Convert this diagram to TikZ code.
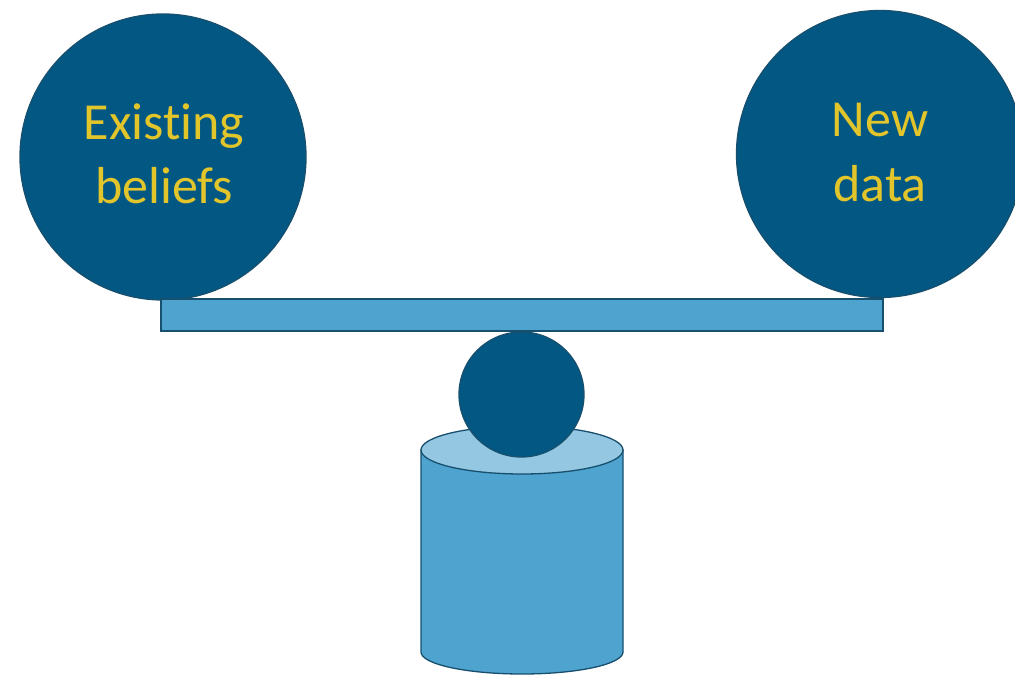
\documentclass[tikz,border=0pt]{standalone}
\usepackage{fontspec}
\setmainfont{Carlito}[Ligatures=NoCommon]
\begin{document}
\begin{tikzpicture}[x=1pt,y=-1pt,
  darkfill/.style={fill=ballblue,draw=edgeblue,line width=1.3pt},
  lightfill/.style={fill=barblue,draw=edgeblue,line width=1.3pt},
  label/.style={text=labelgold,font=\fontsize{52}{63}\selectfont,anchor=base,inner sep=0pt}]
\definecolor{ballblue}{HTML}{025883}
\definecolor{barblue}{HTML}{4FA3CF}
\definecolor{toplight}{HTML}{93C7E2}
\definecolor{edgeblue}{HTML}{174F6E}
\definecolor{labelgold}{HTML}{E2C42B}
\useasboundingbox (0,0) rectangle (1015,676);
% weights on the beam
\node[darkfill,circle,minimum size=286pt,inner sep=0pt] (left) at (163,157) {};
\node[darkfill,circle,minimum size=287pt,inner sep=0pt] (right) at (880,154) {};
\node[label] (l1) at (164,140) {Existing};
\node[label] (l2) at (164,204) {beliefs};
\node[label] (r1) at (880,137) {New};
\node[label] (r2) at (880,202) {data};
% beam
\node[lightfill,rectangle,minimum width=722pt,minimum height=32pt,inner sep=0pt] (beam) at (522,315) {};
% pedestal cylinder
\path[lightfill] (421,450) -- (421,652) arc[start angle=180,end angle=0,x radius=101,y radius=22] -- (623,450) -- cycle;
\path[fill=toplight,draw=edgeblue,line width=1.3pt] (522,450) ellipse[x radius=101,y radius=24];
% fulcrum ball
\node[darkfill,circle,minimum size=125pt,inner sep=0pt] (pivot) at (521.5,394.5) {};
\end{tikzpicture}
\end{document}
